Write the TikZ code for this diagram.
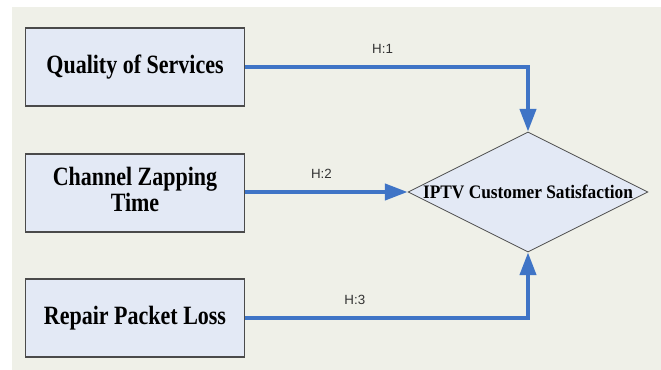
\documentclass[tikz,border=0pt]{standalone}
\usepackage{fontspec}
\usepackage{graphicx}
\setmainfont{Liberation Serif}
\setsansfont{Liberation Sans}
\usetikzlibrary{shapes.geometric,arrows.meta}
\definecolor{bgc}{HTML}{EFF0E8}
\definecolor{boxfill}{HTML}{E3E9F5}
\definecolor{boxline}{HTML}{4A4A4A}
\definecolor{arrowc}{HTML}{3F74C6}
\newcommand{\talltext}[2][1.2]{\scalebox{1}[#1]{#2}}
\tikzset{
  factor/.style={draw=boxline, fill=boxfill, line width=0.8pt, minimum width=219*0.75pt, minimum height=78*0.75pt, inner sep=0pt, align=center, font=\fontsize{16.5}{15}\selectfont\bfseries},
  goal/.style={diamond, draw=boxline, fill=boxfill, line width=0.6pt, minimum width=240*0.75pt, minimum height=120*0.75pt, inner sep=0pt},
  goaltext/.style={inner sep=0pt, font=\fontsize{13}{15}\selectfont\bfseries},
  link/.style={draw=arrowc, line width=3pt, -{Triangle[length=17pt,width=12pt]}},
  hlabel/.style={font=\sffamily\fontsize{10}{12}\selectfont, text=black!80}
}
\begin{document}
\begin{tikzpicture}[x=0.75pt,y=-0.75pt]
\useasboundingbox (0,0) rectangle (661,370);
\fill[white] (0,0) rectangle (661,370);
\fill[bgc] (12,7) rectangle (661,370);
\node[factor] (qos) at (135,67) {\talltext{Quality of Services}};
\node[factor] (czt) at (135,193) {\talltext{\begin{tabular}{@{}c@{}}Channel Zapping\\Time\end{tabular}}};
\node[factor] (rpl) at (135,318) {\talltext{Repair Packet Loss}};
\node[goal] (sat) at (528,192) {};
\node[goaltext] (sattext) at (sat.center) {\talltext[1.1]{IPTV Customer Satisfaction}};
\draw[link] (qos.east) -| node[hlabel, pos=0.243, above=5pt] {H:1} (sat.north);
\draw[link] (czt.east |- sat.west) -- node[hlabel, pos=0.47, above=5pt] {H:2} (sat.west);
\draw[link] (rpl.east) -| node[hlabel, pos=0.194, above=5pt] {H:3} (sat.south);
\end{tikzpicture}
\end{document}
